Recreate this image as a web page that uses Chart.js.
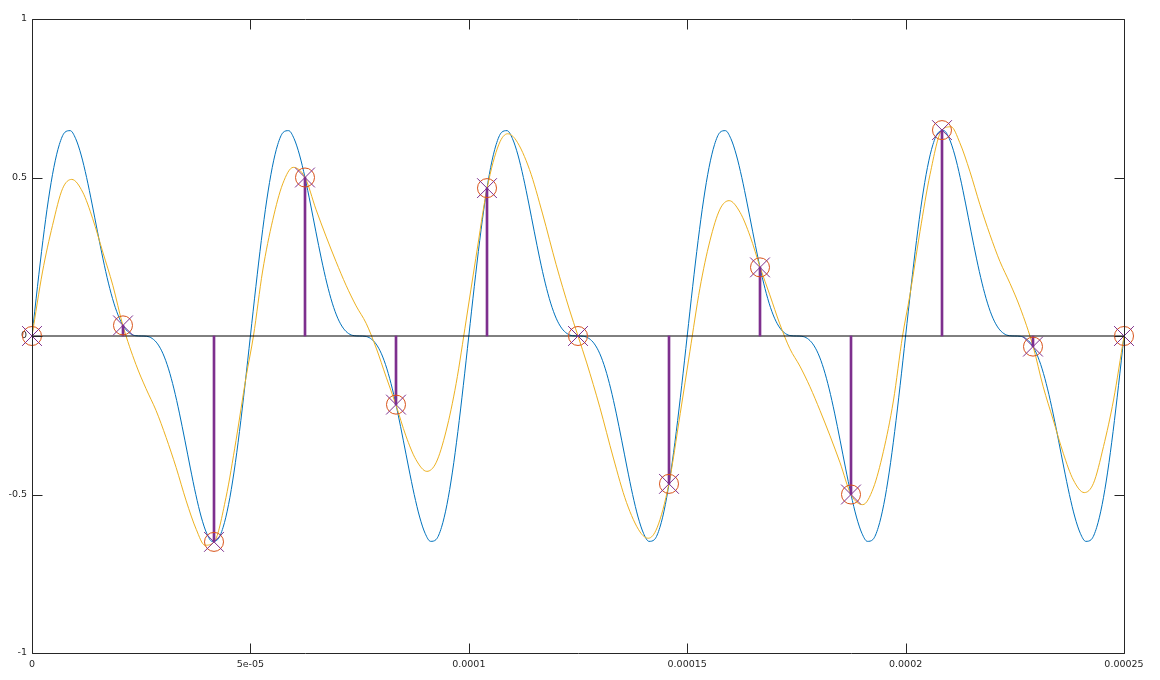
<!DOCTYPE html>
<html>
<head>
<meta charset="utf-8">
<script src="https://cdn.jsdelivr.net/npm/chart.js@4/dist/chart.umd.min.js"></script>
<style>
  html, body { margin: 0; padding: 0; background: #ffffff; }
  #wrap { width: 1160px; height: 680px; }
</style>
</head>
<body>
<div id="wrap"><canvas id="c" width="1160" height="680"></canvas></div>
<script>
// ---------- data ----------
// time axis limits (s)
const xMin = 0, xMax = 0.00025;
const yMin = -1, yMax = 1;

// tick values and labels
const xTickValues = [0, 0.00005, 0.0001, 0.00015, 0.0002, 0.00025];
const xTickLabels = ["0", "5e-05", "0.0001", "0.00015", "0.0002", "0.00025"];
const yTickValues = [-1, -0.5, 0, 0.5, 1];
const yTickLabels = ["-1", "-0.5", "0", "0.5", "1"];

// blue (original) signal, one value every 1.25 µs
const blueStepUs = 1.25;
const blueValues = [
  0, 0.1555, 0.3014, 0.4293, 0.5317, 0.6036, 0.6423, 0.6478, 0.6225, 0.5711, 0.5, 0.4166, 0.3286, 0.2433, 0.1668, 0.1036, 0.0561, 0.0248, 0.0076, 0.0009,
  0, -0.0009, -0.0076, -0.0248, -0.0561, -0.1036, -0.1668, -0.2433, -0.3286, -0.4166, -0.5, -0.5711, -0.6225, -0.6478, -0.6423, -0.6036, -0.5317, -0.4293, -0.3014, -0.1555,
  0, 0.1555, 0.3014, 0.4293, 0.5317, 0.6036, 0.6423, 0.6478, 0.6225, 0.5711, 0.5, 0.4166, 0.3286, 0.2433, 0.1668, 0.1036, 0.0561, 0.0248, 0.0076, 0.0009,
  0, -0.0009, -0.0076, -0.0248, -0.0561, -0.1036, -0.1668, -0.2433, -0.3286, -0.4166, -0.5, -0.5711, -0.6225, -0.6478, -0.6423, -0.6036, -0.5317, -0.4293, -0.3014, -0.1555,
  0, 0.1555, 0.3014, 0.4293, 0.5317, 0.6036, 0.6423, 0.6478, 0.6225, 0.5711, 0.5, 0.4166, 0.3286, 0.2433, 0.1668, 0.1036, 0.0561, 0.0248, 0.0076, 0.0009,
  0, -0.0009, -0.0076, -0.0248, -0.0561, -0.1036, -0.1668, -0.2433, -0.3286, -0.4166, -0.5, -0.5711, -0.6225, -0.6478, -0.6423, -0.6036, -0.5317, -0.4293, -0.3014, -0.1555,
  0, 0.1555, 0.3014, 0.4293, 0.5317, 0.6036, 0.6423, 0.6478, 0.6225, 0.5711, 0.5, 0.4166, 0.3286, 0.2433, 0.1668, 0.1036, 0.0561, 0.0248, 0.0076, 0.0009,
  0, -0.0009, -0.0076, -0.0248, -0.0561, -0.1036, -0.1668, -0.2433, -0.3286, -0.4166, -0.5, -0.5711, -0.6225, -0.6478, -0.6423, -0.6036, -0.5317, -0.4293, -0.3014, -0.1555,
  0, 0.1555, 0.3014, 0.4293, 0.5317, 0.6036, 0.6423, 0.6478, 0.6225, 0.5711, 0.5, 0.4166, 0.3286, 0.2433, 0.1668, 0.1036, 0.0561, 0.0248, 0.0076, 0.0009,
  0, -0.0009, -0.0076, -0.0248, -0.0561, -0.1036, -0.1668, -0.2433, -0.3286, -0.4166, -0.5, -0.5711, -0.6225, -0.6478, -0.6423, -0.6036, -0.5317, -0.4293, -0.3014, -0.1555,
  0
];

// orange (reconstructed) curve, times in µs and values
const orangeTimeUs = [
  0, 2.4, 4.7, 7.0, 9.1, 11.6, 13.9, 16.2, 18.5, 20.8,
  23.8, 26.1, 28.4, 30.7, 33.0, 35.3, 37.6, 39.6, 41.7, 44.4,
  46.7, 49.0, 50.7, 52.8, 55.1, 57.4, 59.8, 62.5, 65.0, 67.3,
  69.6, 71.9, 74.2, 76.5, 78.8, 81.1, 83.3, 85.6, 87.9, 90.4,
  92.5, 94.8, 97.1, 99.4, 101.6, 104.2, 106.9, 108.9, 110.8, 113.9,
  116.9, 120.0, 123.0, 125.0,
  127.0, 130.0, 133.1, 136.1, 139.2, 141.1, 143.1, 145.8, 148.4, 150.6,
  152.9, 155.2, 157.5, 159.6, 162.1, 164.4, 166.7, 168.9, 171.2, 173.5,
  175.8, 178.1, 180.4, 182.7, 185.0, 187.5, 190.2, 192.6, 194.9, 197.2,
  199.3, 201.0, 203.3, 205.6, 208.3, 210.4, 212.4, 214.7, 217.0, 219.3,
  221.6, 223.9, 226.2, 229.2, 231.5, 233.8, 236.1, 238.4, 240.9, 243.0,
  245.3, 247.6, 250.0
];
const orangeValues = [
  0, 0.202, 0.349, 0.465, 0.494, 0.454, 0.37, 0.265, 0.16, 0.0335,
  -0.09, -0.166, -0.235, -0.32, -0.415, -0.52, -0.61, -0.66, -0.6495, -0.51,
  -0.33, -0.13, 0, 0.205, 0.365, 0.48, 0.532, 0.5, 0.40, 0.315,
  0.235, 0.16, 0.095, 0.04, -0.038, -0.13, -0.2165, -0.315, -0.39, -0.427,
  -0.40, -0.30, -0.15, 0.05, 0.245, 0.4665, 0.605, 0.638, 0.618, 0.525,
  0.385, 0.225, 0.085, 0,
  -0.085, -0.225, -0.385, -0.525, -0.618, -0.638, -0.605, -0.4665, -0.245, -0.05,
  0.15, 0.30, 0.40, 0.427, 0.39, 0.315, 0.2165, 0.13, 0.038, -0.04,
  -0.095, -0.16, -0.235, -0.315, -0.40, -0.5, -0.532, -0.48, -0.365, -0.205,
  0, 0.13, 0.33, 0.51, 0.6495, 0.66, 0.61, 0.52, 0.415, 0.32,
  0.235, 0.166, 0.09, -0.0335, -0.16, -0.265, -0.37, -0.454, -0.494, -0.465,
  -0.349, -0.202, 0
];

// samples (stems, circles, crosses)
const sampleTimes = [0, 2.08333e-5, 4.16667e-5, 6.25e-5, 8.33333e-5, 1.041667e-4, 1.25e-4,
  1.458333e-4, 1.666667e-4, 1.875e-4, 2.083333e-4, 2.291667e-4, 2.5e-4];
const sampleValues = [0, 0.0335, -0.6495, 0.5, -0.2165, 0.4665, 0, -0.4665, 0.2165, -0.5, 0.6495, -0.0335, 0];

// ---------- build datasets ----------
const bluePts = blueValues.map((v, i) => ({ x: i * blueStepUs * 1e-6, y: v }));
const orangePts = orangeValues.map((v, i) => ({ x: orangeTimeUs[i] * 1e-6, y: v }));
const samplePts = sampleValues.map((v, i) => ({ x: sampleTimes[i], y: v }));
const basePts = [{ x: xMin, y: 0 }, { x: xMax, y: 0 }];

const AXIS_COLOR = '#262626';

const boxPlugin = {
  id: 'boxTicks',
  afterDatasetsDraw(chart) {
    const { ctx, chartArea: a, scales } = chart;
    const xs = scales.x, ys = scales.y;
    const L = Math.round(a.left) + 0.5, R = Math.round(a.right) + 0.5;
    const T = Math.round(a.top) + 0.5, B = Math.round(a.bottom) + 0.5;
    ctx.save();
    ctx.strokeStyle = AXIS_COLOR;
    ctx.lineWidth = 1;
    ctx.beginPath();
    ctx.rect(L, T, R - L, B - T);
    const tl = 10;
    xTickValues.forEach(v => {
      const px = Math.round(xs.getPixelForValue(v)) + 0.5;
      ctx.moveTo(px, B); ctx.lineTo(px, B - tl);
      ctx.moveTo(px, T); ctx.lineTo(px, T + tl);
    });
    yTickValues.forEach(v => {
      const py = Math.round(ys.getPixelForValue(v)) + 0.5;
      ctx.moveTo(L, py); ctx.lineTo(L + tl, py);
      ctx.moveTo(R, py); ctx.lineTo(R - tl, py);
    });
    ctx.stroke();
    ctx.restore();
  }
};

const bgPlugin = {
  id: 'bg',
  beforeDraw(chart) {
    const ctx = chart.ctx;
    ctx.save();
    ctx.fillStyle = '#ffffff';
    ctx.fillRect(0, 0, chart.width, chart.height);
    ctx.restore();
  }
};

const tickFont = { family: 'DejaVu Sans', size: 9.5 };

new Chart(document.getElementById('c'), {
  type: 'scatter',
  data: {
    datasets: [
      { // crosses on top
        type: 'scatter', data: samplePts, order: 0,
        pointStyle: 'crossRot', pointRadius: 14, pointBorderWidth: 1,
        pointBorderColor: '#7E2F8E', pointBackgroundColor: 'rgba(0,0,0,0)',
        clip: false
      },
      { // circles
        type: 'scatter', data: samplePts, order: 1,
        pointStyle: 'circle', pointRadius: 9.5, pointBorderWidth: 1,
        pointBorderColor: '#D95319', pointBackgroundColor: 'rgba(0,0,0,0)',
        clip: false
      },
      { // stems
        type: 'bar', data: samplePts, order: 2,
        backgroundColor: '#7E2F8E', borderWidth: 0,
        barThickness: 2, grouped: false, base: 0
      },
      { // baseline
        type: 'line', data: basePts, order: 3,
        borderColor: '#000000', borderWidth: 1, pointRadius: 0, fill: false
      },
      { // orange reconstruction
        type: 'line', data: orangePts, order: 4,
        borderColor: '#EDB120', borderWidth: 1, pointRadius: 0, fill: false,
        cubicInterpolationMode: 'monotone'
      },
      { // blue original
        type: 'line', data: bluePts, order: 5,
        borderColor: '#0072BD', borderWidth: 1, pointRadius: 0, fill: false,
        cubicInterpolationMode: 'monotone'
      }
    ]
  },
  options: {
    responsive: false,
    devicePixelRatio: 1,
    animation: false,
    events: [],
    layout: { padding: { top: 19, right: 36, left: 0, bottom: 0 } },
    plugins: { legend: { display: false }, tooltip: { enabled: false } },
    scales: {
      x: {
        type: 'linear', min: xMin, max: xMax, offset: false,
        grid: { display: false, drawTicks: false },
        border: { display: false },
        afterBuildTicks: s => { s.ticks = xTickValues.map(v => ({ value: v })); },
        afterFit: s => { s.height = 27; },
        ticks: {
          autoSkip: false, maxRotation: 0, minRotation: 0, padding: 6,
          color: AXIS_COLOR, font: tickFont,
          callback: (v, i) => xTickLabels[i]
        }
      },
      y: {
        type: 'linear', min: yMin, max: yMax,
        grid: { display: false, drawTicks: false },
        border: { display: false },
        afterBuildTicks: s => { s.ticks = yTickValues.map(v => ({ value: v })); },
        afterFit: s => { s.width = 32; },
        ticks: {
          autoSkip: false, padding: 5,
          color: AXIS_COLOR, font: tickFont,
          callback: (v, i) => yTickLabels[i]
        }
      }
    }
  },
  plugins: [bgPlugin, boxPlugin]
});
</script>
</body>
</html>
